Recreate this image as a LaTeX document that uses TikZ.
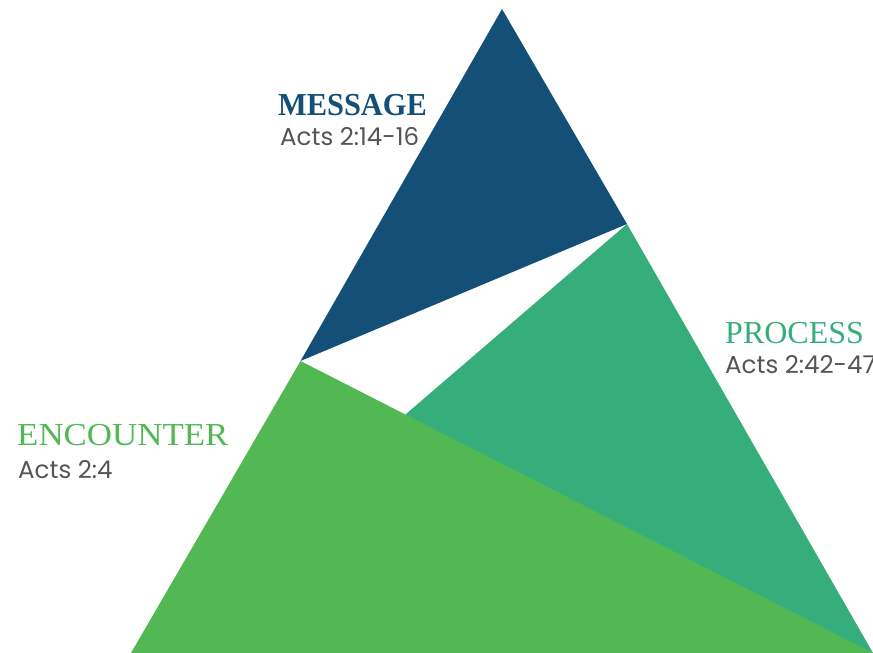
\documentclass[tikz,border=0pt]{standalone}
\usepackage{fontspec}
\setmainfont{Liberation Serif}
\newfontfamily\actsfont{Poppins}
\definecolor{msgblue}{HTML}{134F76}
\definecolor{proteal}{HTML}{35AE7C}
\definecolor{encgreen}{HTML}{52B853}
\definecolor{refgrey}{HTML}{555555}
\begin{document}
\begin{tikzpicture}[x=1pt,y=-1pt,
  heading/.style={anchor=base west,inner sep=0pt,font=\fontsize{32}{32}\selectfont},
  ref/.style={anchor=base west,inner sep=0pt,text=refgrey,font=\actsfont\fontsize{24.5}{24.5}\selectfont}]
\useasboundingbox (0,0) rectangle (873,653);
\clip (0,0) rectangle (873,653);
\coordinate (apex) at (502,9);
\coordinate (mr) at (627,224);
\coordinate (ml) at (300.5,361);
\coordinate (bl) at (131,653);
\coordinate (br) at (873,653);
\coordinate (tm) at (406,414);
\coordinate (tmlow) at (406,440);
% shapes
\fill[msgblue] (apex) -- (mr) -- (ml) -- cycle;
\fill[proteal] (mr) -- (br) -- (tmlow) -- (tm) -- cycle;
\fill[encgreen] (ml) -- (bl) -- (br) -- cycle;
% labels
\node[heading,text=msgblue,font=\bfseries\fontsize{32}{32}\selectfont] (mh) at (278,115) {\scalebox{0.95}[1]{MESSAGE}};
\node[ref] (mref) at (280,145) {Acts 2:14-16};
\node[heading,text=proteal] (ph) at (725,343) {PROCESS};
\node[ref] (pref) at (725,373) {Acts 2:42-47};
\node[heading,text=encgreen] (eh) at (17,445) {\scalebox{1.09}[1]{ENCOUNTER}};
\node[ref] (eref) at (18,478) {Acts 2:4};
\end{tikzpicture}
\end{document}
